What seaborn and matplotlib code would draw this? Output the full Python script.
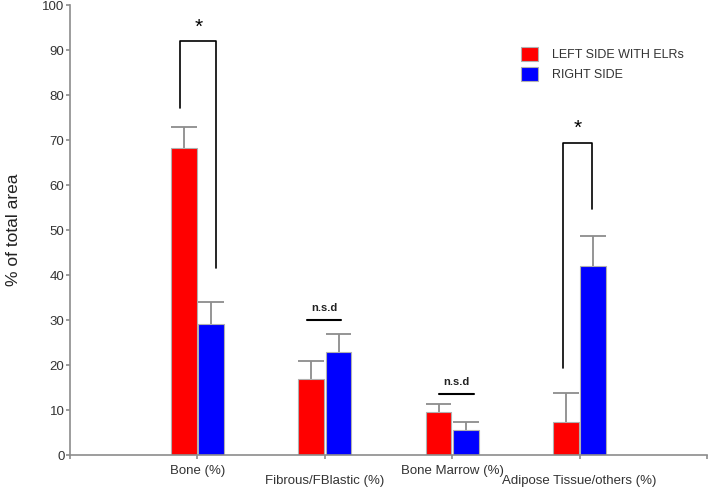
import numpy as np
import pandas as pd
import matplotlib
matplotlib.use("Agg")
import matplotlib.pyplot as plt
import matplotlib.transforms as mtransforms
import seaborn as sns

# values
tissues = ["Bone (%)", "Fibrous/FBlastic (%)", "Bone Marrow (%)", "Adipose Tissue/others (%)"]
sides = ["LEFT SIDE WITH ELRs", "RIGHT SIDE"]
left_mean = [68.2, 16.9, 9.6, 7.3]
left_err = [4.8, 3.9, 1.7, 6.4]
right_mean = [29.1, 23.0, 5.6, 42.1]
right_err = [4.8, 4.0, 1.7, 6.5]

# significance marks: (category index, left x off, right x off, left foot, right foot, top)
star_brackets = [(0, -0.133, 0.149, 77.2, 41.5, 91.9),
                 (3, -0.13, 0.097, 19.3, 54.7, 69.4)]
nsd_lines = [(1, -0.14, 0.13, 29.9), (2, -0.10, 0.17, 13.6)]

df = pd.DataFrame({
    "tissue": tissues * 2,
    "side": [sides[0]] * 4 + [sides[1]] * 4,
    "pct": left_mean + right_mean,
})

sns.set_style("white")
plt.rcParams["font.family"] = ["Liberation Sans", "DejaVu Sans"]

fig, ax = plt.subplots(figsize=(7.08, 4.91), dpi=100)
fig.subplots_adjust(left=0.0989, right=0.9986, bottom=0.0733, top=0.9898)

sns.barplot(data=df, x="tissue", y="pct", hue="side", order=tissues, hue_order=sides,
            palette=["#ff0000", "#0000ff"], saturation=1, width=0.43, gap=0.06,
            errorbar=None, edgecolor="#b0b0b0", linewidth=0.8, ax=ax, zorder=2)

# one-sided error bars on top of each bar
errs = left_err + right_err
bars = [p for p in ax.patches if p.get_height() > 0][:8]
for b, e in zip(bars, errs):
    xc = b.get_x() + b.get_width() / 2
    top = b.get_height()
    ax.vlines(xc, top, top + e, color="#8c8c8c", lw=1.3, zorder=1)
    ax.hlines(top + e, b.get_x(), b.get_x() + b.get_width(), color="#8c8c8c", lw=1.3,
              zorder=1)

for i, xl, xr, yl, yr, yt in star_brackets:
    ax.plot([i + xl, i + xl, i + xr, i + xr], [yl, yt, yt, yr], color="black", lw=1.2)
    ax.text(i + (xl + xr) / 2, yt + 1.0, "*", ha="center", va="bottom", fontsize=15,
            color="black")

for i, xl, xr, y in nsd_lines:
    ax.plot([i + xl, i + xr], [y, y], color="black", lw=1.5)
    ax.text(i + (xl + xr) / 2, y + 1.6, "n.s.d", ha="center", va="bottom",
            fontsize=8, fontweight="bold", color="#222222")

ax.set_xlim(-1, 4)
ax.set_ylim(0, 100)
ax.set_yticks(np.arange(0, 101, 10))
ax.set_xticks([-1, 0, 1, 2, 3, 4])
ax.set_xticklabels([""] + tissues + [""])
ax.set_xlabel("")
ax.set_ylabel("% of total area", fontsize=12.5, color="#222222", labelpad=15.5)

for side in ["top", "right"]:
    ax.spines[side].set_visible(False)
for side in ["left", "bottom"]:
    ax.spines[side].set_color("#8c8c8c")
    ax.spines[side].set_linewidth(1.2)
ax.tick_params(axis="both", bottom=True, left=True, colors="#8c8c8c", length=3,
               width=1.2, direction="out", labelcolor="#333333", labelsize=9.5)
ax.tick_params(axis="y", pad=1)
ax.tick_params(axis="x", pad=4)

# staggered category labels
off = mtransforms.ScaledTranslation(0, -7.2 / 72, fig.dpi_scale_trans)
for k, lbl in enumerate(ax.get_xticklabels()):
    if k in (2, 4):
        lbl.set_transform(lbl.get_transform() + off)

leg = ax.legend(loc="upper left", bbox_to_anchor=(0.708, 0.907), frameon=False,
                fontsize=9, handlelength=1.36, handleheight=1.36, handletextpad=1.15,
                labelspacing=0.45, borderpad=0, borderaxespad=0)
for t in leg.get_texts():
    t.set_color("#333333")

fig.savefig("out.png", dpi=100)
